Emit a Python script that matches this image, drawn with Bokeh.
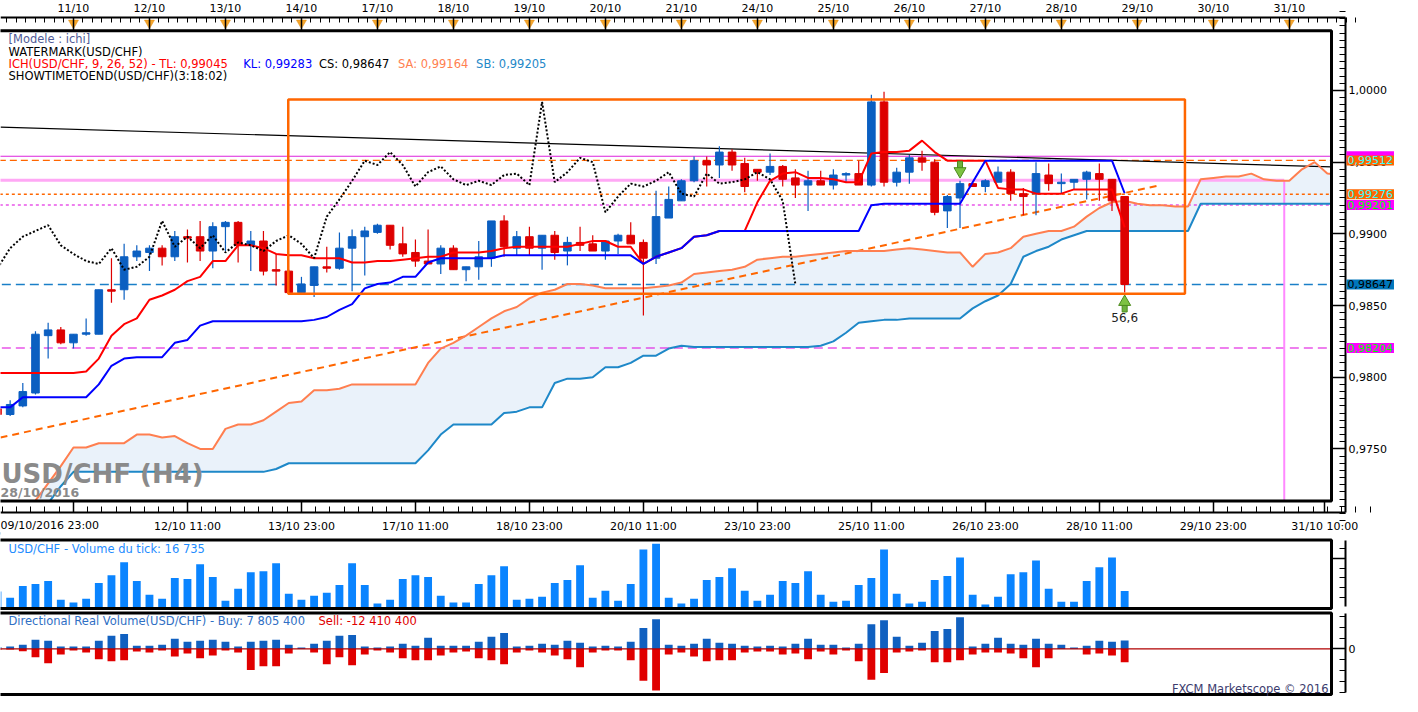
import numpy as np
from bokeh.plotting import figure
from bokeh.layouts import column
from bokeh.models import (Range1d, LinearAxis, FixedTicker, Label, ColumnDataSource,
                          CustomJSTickFormatter)
from bokeh.embed import file_html
from bokeh.resources import INLINE

# ---------------------------------------------------------------- data
FIRST_BAR = -6   # index of the first (partly visible) H4 bar; index 0 = first date mark

open_ = [0.9778, 0.9774, 0.9780, 0.9789, 0.9829, 0.9833, 0.9824, 0.9830, 0.9830, 0.9861,
         0.9861, 0.9884, 0.9887, 0.9890, 0.9884, 0.9898, 0.9898, 0.9888, 0.9905, 0.9908,
         0.9892, 0.9895, 0.9875, 0.9874, 0.9859, 0.9864, 0.9877, 0.9876, 0.9890, 0.9898,
         0.9901, 0.9906, 0.9893, 0.9887, 0.9881, 0.9879, 0.9890, 0.9875, 0.9877, 0.9883,
         0.9909, 0.9890, 0.9898, 0.9890, 0.9899, 0.9888, 0.9894, 0.9893, 0.9888, 0.9895,
         0.9899, 0.9894, 0.9883, 0.9911, 0.9923, 0.9937, 0.9951, 0.9948, 0.9957, 0.9949,
         0.9945, 0.9943, 0.9947, 0.9939, 0.9934, 0.9937, 0.9934, 0.9941, 0.9942, 0.9934,
         0.9992, 0.9936, 0.9943, 0.9953, 0.9950, 0.9916, 0.9925, 0.9935, 0.9933, 0.9936,
         0.9943, 0.9928, 0.9928, 0.9941, 0.9935, 0.9936, 0.9938, 0.9942, 0.9938, 0.9926]
high = [0.9781, 0.9784, 0.9796, 0.9832, 0.9838, 0.9835, 0.9830, 0.9841, 0.9861, 0.9883,
        0.9893, 0.9892, 0.9892, 0.9892, 0.9902, 0.9903, 0.9909, 0.9908, 0.9909, 0.9909,
        0.9902, 0.9902, 0.9886, 0.9875, 0.9870, 0.9877, 0.9891, 0.9901, 0.9903, 0.9905,
        0.9907, 0.9906, 0.9905, 0.9896, 0.9903, 0.9892, 0.9892, 0.9877, 0.9895, 0.9909,
        0.9913, 0.9902, 0.9905, 0.9899, 0.9902, 0.9898, 0.9905, 0.9899, 0.9895, 0.9900,
        0.9908, 0.9896, 0.9930, 0.9933, 0.9938, 0.9954, 0.9954, 0.9961, 0.9959, 0.9953,
        0.9945, 0.9956, 0.9948, 0.9945, 0.9944, 0.9944, 0.9945, 0.9943, 0.9951, 0.9997,
        0.9999, 0.9946, 0.9955, 0.9958, 0.9952, 0.9927, 0.9937, 0.9935, 0.9938, 0.9947,
        0.9945, 0.9932, 0.9950, 0.9949, 0.9942, 0.9938, 0.9944, 0.9949, 0.9938, 0.9926]
low = [0.9770, 0.9773, 0.9779, 0.9788, 0.9813, 0.9823, 0.9820, 0.9829, 0.9830, 0.9852,
       0.9854, 0.9881, 0.9874, 0.9878, 0.9881, 0.9880, 0.9881, 0.9876, 0.9888, 0.9880,
       0.9874, 0.9871, 0.9864, 0.9858, 0.9859, 0.9856, 0.9873, 0.9875, 0.9860, 0.9871,
       0.9900, 0.9889, 0.9884, 0.9877, 0.9879, 0.9872, 0.9875, 0.9867, 0.9868, 0.9877,
       0.9884, 0.9885, 0.9885, 0.9875, 0.9882, 0.9878, 0.9888, 0.9888, 0.9882, 0.9886,
       0.9893, 0.9843, 0.9879, 0.9911, 0.9923, 0.9936, 0.9933, 0.9939, 0.9944, 0.9929,
       0.9937, 0.9941, 0.9933, 0.9925, 0.9916, 0.9934, 0.9931, 0.9936, 0.9934, 0.9933,
       0.9933, 0.9933, 0.9935, 0.9944, 0.9913, 0.9904, 0.9904, 0.9933, 0.9929, 0.9936,
       0.9923, 0.9913, 0.9913, 0.9930, 0.9928, 0.9931, 0.9924, 0.9923, 0.9916, 0.9859]
close = [0.9774, 0.9781, 0.9790, 0.9830, 0.9833, 0.9824, 0.9830, 0.9831, 0.9861, 0.9860,
         0.9884, 0.9888, 0.9890, 0.9884, 0.9898, 0.9897, 0.9888, 0.9905, 0.9908, 0.9892,
         0.9895, 0.9874, 0.9874, 0.9859, 0.9865, 0.9877, 0.9876, 0.9890, 0.9898, 0.9902,
         0.9906, 0.9892, 0.9886, 0.9881, 0.9879, 0.9890, 0.9875, 0.9877, 0.9884, 0.9909,
         0.9891, 0.9898, 0.9890, 0.9899, 0.9887, 0.9894, 0.9892, 0.9888, 0.9895, 0.9899,
         0.9893, 0.9883, 0.9912, 0.9924, 0.9937, 0.9951, 0.9948, 0.9957, 0.9948, 0.9933,
         0.9943, 0.9947, 0.9938, 0.9934, 0.9937, 0.9934, 0.9941, 0.9942, 0.9934, 0.9992,
         0.9936, 0.9943, 0.9953, 0.9950, 0.9915, 0.9926, 0.9935, 0.9933, 0.9937, 0.9943,
         0.9928, 0.9926, 0.9942, 0.9935, 0.9936, 0.9938, 0.9943, 0.9938, 0.9923, 0.98647]

tenkan = [0.9803, 0.9803, 0.9803, 0.9803, 0.9803, 0.9803, 0.9803, 0.9804, 0.9813, 0.9829,
          0.9837, 0.9841, 0.9854, 0.9857, 0.9861, 0.9867, 0.9870, 0.9881, 0.9881, 0.9892,
          0.9892, 0.9890, 0.9886, 0.9885, 0.9885, 0.9883, 0.9883, 0.9883, 0.9880, 0.9880,
          0.9881, 0.9881, 0.9882, 0.9883, 0.9884, 0.9884, 0.9887, 0.9887, 0.9887, 0.9888,
          0.9890, 0.9891, 0.9891, 0.9891, 0.9891, 0.9891, 0.9893, 0.9895, 0.9895, 0.9891,
          0.9891, 0.9879, 0.9884, 0.9887, 0.9890, 0.9898, 0.9899, 0.9902, 0.9902, 0.9902,
          0.9922, 0.9937, 0.9942, 0.9943, 0.9939, 0.9939, 0.9938, 0.9936, 0.9936, 0.9956,
          0.9957, 0.9957, 0.9958, 0.9965, 0.9957, 0.9951, 0.9951, 0.9951, 0.9951, 0.9932,
          0.9931, 0.9931, 0.9928, 0.9928, 0.9928, 0.9931, 0.9931, 0.9931, 0.9931, 0.99045]
kijun = [0.9779, 0.9779, 0.9786, 0.9786, 0.9786, 0.9786, 0.9786, 0.9786, 0.9795, 0.9808,
         0.9813, 0.9814, 0.9814, 0.9814, 0.9824, 0.9826, 0.9836, 0.9839, 0.9839, 0.9839,
         0.9839, 0.9839, 0.9839, 0.9839, 0.9839, 0.9840, 0.9842, 0.9847, 0.9851, 0.9862,
         0.9865, 0.9866, 0.9870, 0.9870, 0.9880, 0.9883, 0.9883, 0.9883, 0.9883, 0.9883,
         0.9885, 0.9885, 0.9885, 0.9885, 0.9885, 0.9885, 0.9885, 0.9885, 0.9885, 0.9885,
         0.9885, 0.9879, 0.9884, 0.9887, 0.9890, 0.9898, 0.9899, 0.9902, 0.9902, 0.9902,
         0.9902, 0.9902, 0.9902, 0.9902, 0.9902, 0.9902, 0.9902, 0.9902, 0.9902, 0.9920,
         0.9921, 0.9921, 0.9921, 0.9921, 0.9921, 0.9921, 0.9921, 0.9936, 0.9951, 0.9951,
         0.9951, 0.9951, 0.9951, 0.9951, 0.9951, 0.9951, 0.9951, 0.9951, 0.9951, 0.99283]

# senkou spans, plotted 26 bars ahead: indices FIRST_BAR .. 100
senkou_a = [0.9680, 0.9690, 0.9702, 0.9714, 0.9726, 0.9738, 0.9751, 0.9751, 0.9754, 0.9754,
            0.9754, 0.9760, 0.9760, 0.9758, 0.9759, 0.9754, 0.9750, 0.9750, 0.9764, 0.9767,
            0.9767, 0.9770, 0.9776, 0.9782, 0.9783, 0.9791, 0.9791, 0.9792, 0.9795, 0.9795,
            0.9795, 0.9795, 0.9795, 0.9795, 0.9810, 0.9820, 0.9824, 0.9829, 0.9835, 0.9841,
            0.9846, 0.9849, 0.9855, 0.9859, 0.9861, 0.9865, 0.9865, 0.9864, 0.9862, 0.9862,
            0.9862, 0.9862, 0.9863, 0.9864, 0.9866, 0.9872, 0.9873, 0.9874, 0.9875, 0.9877,
            0.9882, 0.9883, 0.9884, 0.9884, 0.9885, 0.9886, 0.9887, 0.9888, 0.9888, 0.9888,
            0.9888, 0.9889, 0.9890, 0.9889, 0.9888, 0.9887, 0.9887, 0.9877, 0.9886, 0.9887,
            0.9890, 0.9898, 0.9900, 0.9902, 0.9902, 0.9905, 0.9912, 0.9918, 0.9922, 0.9923,
            0.9921, 0.9920, 0.9920, 0.9919, 0.9919, 0.9938, 0.9939, 0.9940, 0.9940, 0.9942,
            0.9938, 0.9937, 0.9937, 0.9945, 0.9950, 0.9942, 0.9941]
senkou_b = [0.9690, 0.9695, 0.9700, 0.9705, 0.9712, 0.9724, 0.9734, 0.9734, 0.9734, 0.9734,
            0.9734, 0.9734, 0.9734, 0.9734, 0.9734, 0.9734, 0.9734, 0.9734, 0.9734, 0.9734,
            0.9734, 0.9734, 0.9736, 0.9740, 0.9740, 0.9740, 0.9740, 0.9740, 0.9740, 0.9740,
            0.9740, 0.9740, 0.9740, 0.9740, 0.9749, 0.9760, 0.9767, 0.9767, 0.9767, 0.9767,
            0.9775, 0.9776, 0.9779, 0.9779, 0.9796, 0.9799, 0.9799, 0.9800, 0.9807, 0.9807,
            0.9810, 0.9815, 0.9815, 0.9820, 0.9822, 0.9821, 0.9821, 0.9821, 0.9821, 0.9821,
            0.9821, 0.9821, 0.9821, 0.9821, 0.9821, 0.9822, 0.9825, 0.9831, 0.9838, 0.9839,
            0.9840, 0.9840, 0.9841, 0.9841, 0.9841, 0.9841, 0.9841, 0.9848, 0.9853, 0.9857,
            0.9865, 0.9884, 0.9888, 0.9891, 0.9896, 0.9899, 0.9902, 0.9902, 0.9902, 0.9902,
            0.9902, 0.9902, 0.9902, 0.9902, 0.9902, 0.9921, 0.9921, 0.9921, 0.9921, 0.9921,
            0.9921, 0.9921, 0.9921, 0.9921, 0.9921, 0.9921, 0.9921]
CHIKOU_SHIFT = 26

# tick volume, thousands of ticks
tick_volume = [16.1, 9.7, 21.8, 23.8, 26.8, 7.7, 4.7, 8.7, 24.8, 32.8,
               45.9, 26.8, 12.7, 8.7, 29.8, 28.8, 43.9, 30.8, 6.7, 18.8,
               35.8, 36.9, 44.9, 13.7, 7.7, 11.7, 14.7, 22.8, 44.9, 22.8,
               3.7, 7.7, 28.8, 32.8, 30.8, 11.7, 4.7, 4.7, 23.8, 32.8,
               41.9, 7.7, 8.7, 10.7, 24.8, 27.8, 42.9, 9.7, 16.8, 6.7,
               23.8, 59.0, 65.0, 9.7, 3.7, 8.7, 27.8, 30.8, 39.9, 16.8,
               6.7, 12.7, 26.8, 24.8, 36.9, 12.7, 5.7, 6.7, 22.8, 29.8,
               59.0, 13.7, 3.7, 5.7, 27.8, 31.8, 50.9, 12.7, 2.7, 10.7,
               33.8, 35.8, 47.9, 18.8, 5.7, 5.7, 26.8, 40.9, 50.9, 16.7]
# directional real volume, units of 100 000
buy_volume = [18, 21, 39, 84, 75, 21, 21, 21, 75, 120,
              138, 30, 30, 39, 93, 66, 75, 84, 66, 21,
              66, 75, 84, 39, 12, 48, 75, 120, 129, 21,
              12, 21, 48, 30, 102, 30, 30, 30, 66, 111,
              147, 21, 30, 48, 39, 75, 57, 21, 30, 21,
              66, 192, 273, 39, 30, 48, 93, 57, 48, 30,
              21, 30, 21, 48, 93, 39, 39, 12, 48, 228,
              264, 111, 30, 57, 165, 183, 291, 21, 48, 102,
              48, 39, 93, 48, 39, 12, 30, 75, 66, 78]
sell_volume = [9, 6, 21, 78, 132, 51, 15, 33, 96, 114,
               105, 24, 33, 15, 69, 42, 87, 60, 15, 33,
               195, 159, 159, 42, 0, 33, 141, 78, 150, 51,
               15, 33, 87, 105, 105, 60, 33, 24, 87, 105,
               141, 33, 15, 33, 60, 96, 168, 33, 15, 15,
               105, 294, 384, 51, 33, 69, 114, 105, 105, 33,
               24, 24, 51, 42, 96, 24, 51, 15, 114, 285,
               222, 33, 24, 15, 123, 123, 105, 51, 33, 33,
               42, 87, 168, 87, 0, 0, 51, 42, 60, 124]

top_date_index = [0, 6, 12, 18, 24, 30, 36, 42, 48, 54, 60, 66, 72, 78, 84, 90, 96]
top_date_labels = ["11/10", "12/10", "13/10", "14/10", "17/10", "18/10", "19/10", "20/10",
                   "21/10", "24/10", "25/10", "26/10", "27/10", "28/10", "29/10", "30/10", "31/10"]
bottom_time_index = [0, 9, 18, 27, 36, 45, 54, 63, 72, 81, 90, 98.8]
bottom_time_labels = ["09/10/2016 23:00", "12/10 11:00", "13/10 23:00", "17/10 11:00",
                      "18/10 23:00", "20/10 11:00", "23/10 23:00", "25/10 11:00",
                      "26/10 23:00", "28/10 11:00", "29/10 23:00", "31/10 10:00"]
price_ticks = [0.975, 0.980, 0.985, 0.990, 0.995, 1.000]

# horizontal price levels drawn on the chart
level_prices = [0.99541, 0.99512, 0.99276, 0.99201, 0.98647, 0.98204]
level_texts = ["0,99541", "0,99512", "0,99276", "0,99201", "0,98647", "0,98204"]
# drawn objects (bar index / price)
trend_black = ([-5.76, 99.32], [0.99744, 0.99467])
trend_orange = ([-5.76, 85.6], [0.97580, 0.99335])
box_obj = (16.96, 87.76, 0.98582, 0.99937)
pink_level, pink_index = 0.99373, 95.6
signal_index = [70, 83]
signal_price = [0.99458, 0.98504]
signal_kind = ["down", "up"]
signal_value_text, signal_value_price = "56,6", 0.98419

# ---------------------------------------------------------------- layout helpers
FONT = "DejaVu Sans"
W = 1402
AXIS_PX = 1345
FRAME_R_PX = 1331
BAR0_PX = 72.97
BAR_PX = 12.665


def xd(px):
    return (px - BAR0_PX) / BAR_PX


x_lo, x_hi = xd(0), xd(W)
x_axis = xd(AXIS_PX)
x_frame = xd(FRAME_R_PX)
xr = Range1d(x_lo, x_hi)

MAIN_H = 537
ONE_PX, PX_PER_PRICE = 89.93, 14340.0


def pd(px):
    return 1 - (px - ONE_PX) / PX_PER_PRICE


BLUE_C, RED_C = "#0B5FC1", "#DD0000"


def base_fig(h, y_range):
    f = figure(width=W, height=h, x_range=xr, y_range=y_range, x_axis_type=None, y_axis_type=None,
               output_backend="svg", toolbar_location=None, min_border_left=0,
               min_border_right=0, min_border_top=0, min_border_bottom=0)
    f.outline_line_color = None
    f.background_fill_color = "white"
    f.border_fill_color = "white"
    return f


def style_axis(ax, tick_in, minor_in, size="11px"):
    ax.major_tick_in = tick_in
    ax.major_tick_out = 0
    ax.minor_tick_in = minor_in
    ax.minor_tick_out = 0
    ax.axis_line_width = 2
    ax.axis_line_color = "black"
    ax.major_tick_line_width = 1.5
    ax.minor_tick_line_width = 1
    ax.major_label_text_font = FONT
    ax.major_label_text_font_size = size
    ax.major_label_text_color = "black"


LOOKUP_JS = """
for (let k = 0; k < t.length; k++) { if (Math.abs(t[k] - tick) < 1e-6) return l[k]; }
return "";
"""


def frame_and_masks(f, y_lo, y_hi, top, bottom):
    big = abs(y_hi - y_lo) * 3
    f.quad(left=[x_frame, x_lo - 5, x_lo - 5], right=[x_hi + 5] * 3,
           bottom=[y_lo - big, top, y_lo - big], top=[y_hi + big, y_hi + big, bottom],
           fill_color="white", line_color=None)
    f.quad(left=[x_lo - 5], right=[x_frame], top=[top], bottom=[bottom],
           fill_color=None, line_color="black", line_width=3)


def text(f, x, y, s, color, size="11.5px", align="left", style="normal", baseline="middle", **kw):
    f.add_layout(Label(x=x, y=y, text=s, text_color=color, text_font=FONT, text_font_size=size,
                       text_align=align, text_baseline=baseline, text_font_style=style, **kw))


# ---------------------------------------------------------------- main price panel
py_lo, py_hi = pd(MAIN_H), pd(0)
p = base_fig(MAIN_H, Range1d(py_lo, py_hi))

bars = list(range(FIRST_BAR, FIRST_BAR + len(close)))
cloud_x = list(range(FIRST_BAR, FIRST_BAR + len(senkou_a)))

p.varea(x=cloud_x, y1=senkou_a, y2=senkou_b, fill_color="#EAF2FA")

lvl_style = [("#DD22DD", 1.2, "solid"), ("#FF6600", 1.2, "7 4"), ("#FF6600", 1.5, "3 3"),
             ("#DD00DD", 1.2, "3 3"), ("#1A7FC8", 1.5, "9 5"), ("#DD00DD", 1.2, "9 5")]
for lv, (col, lw, dash) in zip(level_prices, lvl_style):
    p.segment(x0=[x_lo - 1], x1=[x_hi + 1], y0=[lv], y1=[lv], line_color=col,
              line_width=lw, line_dash=dash)
p.line(x=[x_lo - 1, pink_index], y=[pink_level, pink_level], line_color="#FFA8F5", line_width=3)
p.line(x=[pink_index, pink_index], y=[pink_level, py_lo - 0.01], line_color="#FF88FF", line_width=2)
p.line(x=trend_black[0], y=trend_black[1], line_color="black", line_width=1.2)
p.line(x=trend_orange[0], y=trend_orange[1], line_color="#FF6600", line_width=2, line_dash="7 5")

p.line(x=cloud_x, y=senkou_b, line_color="#1E88C8", line_width=2)
p.line(x=cloud_x, y=senkou_a, line_color="#FF7F50", line_width=2)

up = [c >= o for o, c in zip(open_, close)]
csrc = ColumnDataSource(dict(
    x=bars, h=high, l=low,
    top=[max(o, c) for o, c in zip(open_, close)],
    bottom=[min(o, c) for o, c in zip(open_, close)],
    color=[BLUE_C if u else RED_C for u in up]))
p.segment(x0="x", x1="x", y0="l", y1="h", line_color="color", line_width=1.2, source=csrc)
p.vbar(x="x", width=0.6, top="top", bottom="bottom", fill_color="color", line_color="color",
       line_width=1, source=csrc)

p.line(x=bars, y=tenkan, line_color="#FF0000", line_width=2)
p.line(x=bars, y=kijun, line_color="#0000FF", line_width=2)
chik_x = bars[:len(close) - CHIKOU_SHIFT]
chik_y = close[CHIKOU_SHIFT:]
p.line(x=chik_x, y=chik_y, line_color="black", line_width=2, line_dash="2 2")

p.quad(left=[box_obj[0]], right=[box_obj[1]], bottom=[box_obj[2]], top=[box_obj[3]],
       fill_color=None, line_color="#FF6600", line_width=2.5)

frame_and_masks(p, py_lo, py_hi, pd(30.3), pd(500.5))

# date markers on the top axis
p.scatter(x=top_date_index, y=[pd(22.5)] * len(top_date_index), marker="inverted_triangle",
          size=10, fill_color="#F5A52A", line_color="#E08A10", line_width=0.5)

# signal arrows
PX1 = 1.0 / PX_PER_PRICE
for i, pr, kind in zip(signal_index, signal_price, signal_kind):
    if kind == "up":
        head_y, shaft_y, mk = pr + 3 * PX1, pr - 3 * PX1, "triangle"
    else:
        head_y, shaft_y, mk = pr - 3 * PX1, pr + 3 * PX1, "inverted_triangle"
    p.rect(x=[i], y=[shaft_y], width=5, height=8, width_units="screen", height_units="screen",
           fill_color="#6DB33F", line_color="#4C8A1E", line_width=1)
    p.scatter(x=[i], y=[head_y], marker=mk, size=12, fill_color="#7DC242",
              line_color="#4C8A1E", line_width=1)
text(p, signal_index[1], signal_value_price, signal_value_text, "#222222", size="12px", align="center")

# axes (drawn at fixed positions inside the canvas)
top_ax = LinearAxis(ticker=FixedTicker(ticks=top_date_index,
                                       minor_ticks=[k * 0.75 for k in range(-8, 136)]),
                    formatter=CustomJSTickFormatter(args=dict(t=top_date_index, l=top_date_labels),
                                                    code=LOOKUP_JS),
                    fixed_location=pd(17), bounds=(x_lo, x_axis))
style_axis(top_ax, 13, 5)
top_ax.major_label_standoff = 3
p.add_layout(top_ax, "above")

bot_labels_axis = [""] + bottom_time_labels[1:]
bot_ax = LinearAxis(ticker=FixedTicker(ticks=bottom_time_index,
                                       minor_ticks=[k * 1.125 for k in range(-6, 92)]),
                    formatter=CustomJSTickFormatter(args=dict(t=bottom_time_index, l=bot_labels_axis),
                                                    code=LOOKUP_JS),
                    fixed_location=pd(512), bounds=(x_lo, x_axis))
style_axis(bot_ax, 12, 6)
bot_ax.major_label_standoff = 7
p.add_layout(bot_ax, "below")

r_ax = LinearAxis(ticker=FixedTicker(ticks=price_ticks,
                                     minor_ticks=[0.9700 + k * 0.0005 for k in range(0, 72)]),
                  formatter=CustomJSTickFormatter(code="return tick.toFixed(4).replace('.', ',');"),
                  fixed_location=x_axis, bounds=(pd(512), pd(17)))
style_axis(r_ax, 14, 6)
r_ax.major_label_standoff = 3
p.add_layout(r_ax, "right")

# price boxes on the right scale
box_fill = ["#FF00FF", "#FF6600", "#FF6600", "#FF00FF", "#0077BB", "#FF00FF"]
box_txt = ["#FF00FF", "#33FFFF", "#33FFFF", "#00FF00", "#000000", "#00FF00"]
for lv, s, bf, tc in zip(level_prices, level_texts, box_fill, box_txt):
    p.add_layout(Label(x=x_axis, y=lv, x_offset=1, text=s, text_color=tc, text_font=FONT,
                       text_font_size="11px", text_baseline="middle", text_align="left",
                       background_fill_color=bf, padding=1))

# first bottom label (left aligned, as in the original)
text(p, x_lo, pd(525), bottom_time_labels[0], "black", size="11px")

# header texts
text(p, xd(8), pd(38.6), "[Modele : ichi]", "#505A96")
text(p, xd(8), pd(51.2), "WATERMARK(USD/CHF)", "black")
text(p, xd(8), pd(63.6), "ICH(USD/CHF, 9, 26, 52) -  TL: 0,99045", "#FF0000")
text(p, xd(242.7), pd(63.6), "KL: 0,99283", "#0000FF")
text(p, xd(318.4), pd(63.6), "CS: 0,98647", "black")
text(p, xd(397.5), pd(63.6), "SA: 0,99164", "#FF7F50")
text(p, xd(475.6), pd(63.6), "SB: 0,99205", "#1E88C8")
text(p, xd(8), pd(75.9), "SHOWTIMETOEND(USD/CHF)(3:18:02)", "black")

# watermark
text(p, xd(1), pd(473), "USD/CHF (H4)", "#8A8A8A", size="26px", style="bold")
text(p, xd(0), pd(492), "28/10/2016", "#8A8A8A", size="12.5px", style="bold")

# ---------------------------------------------------------------- tick volume panel
VOL_H, VOL_BASE, VOL_K = 73, 69.7, 0.9775


def vd(px):
    return (VOL_BASE - px) / VOL_K


vy_lo, vy_hi = vd(VOL_H), vd(0)
v = base_fig(VOL_H, Range1d(vy_lo, vy_hi))
v.vbar(x=bars, width=0.62, top=tick_volume, bottom=0, fill_color="#0A84FF", line_color=None)
frame_and_masks(v, vy_lo, vy_hi, vd(2.6), vd(71))
v_ax = LinearAxis(ticker=FixedTicker(ticks=[50], minor_ticks=[10, 20, 30, 40, 60]),
                  formatter=CustomJSTickFormatter(code="return '';"),
                  fixed_location=x_axis, bounds=(vd(69), vd(3.3)))
style_axis(v_ax, 14, 6)
v.add_layout(v_ax, "right")
text(v, xd(8), vd(11), "USD/CHF - Volume du tick: 16 735", "#1E8CFF")

# ---------------------------------------------------------------- directional volume panel
DIR_H, DIR_ZERO, DIR_K = 86, 38.4, 0.10861


def dd(px):
    return (DIR_ZERO - px) / DIR_K


dy_lo, dy_hi = dd(DIR_H), dd(0)
d = base_fig(DIR_H, Range1d(dy_lo, dy_hi))
d.vbar(x=bars, width=0.62, top=buy_volume, bottom=0, fill_color="#1060C0", line_color=None)
d.vbar(x=bars, width=0.62, top=0, bottom=[-s for s in sell_volume], fill_color="#E00000",
       line_color=None)
d.segment(x0=[x_lo - 1], x1=[x_frame], y0=[0], y1=[0], line_color="#B00000", line_width=1.2)
frame_and_masks(d, dy_lo, dy_hi, dd(2.4), dd(84))
d_ax = LinearAxis(ticker=FixedTicker(ticks=[0], minor_ticks=[-400, -300, -200, -100, 100, 200, 300]),
                  formatter=CustomJSTickFormatter(code="return tick == 0 ? '0' : '';"),
                  fixed_location=x_axis, bounds=(dd(82), dd(2.6)))
style_axis(d_ax, 14, 6)
d_ax.major_label_standoff = 3
d.add_layout(d_ax, "right")
text(d, xd(8), dd(10), "Directional Real Volume(USD/CHF) -  Buy: 7 805 400", "#2F6FC4")
text(d, xd(318), dd(10), "Sell: -12 410 400", "#E00000")
text(d, xd(1328), dd(78), "FXCM Marketscope \u00a9 2016", "#3C3C6E", align="right")

layout = column(p, v, d, spacing=0)
open("out.html", "w").write(file_html(layout, INLINE))
